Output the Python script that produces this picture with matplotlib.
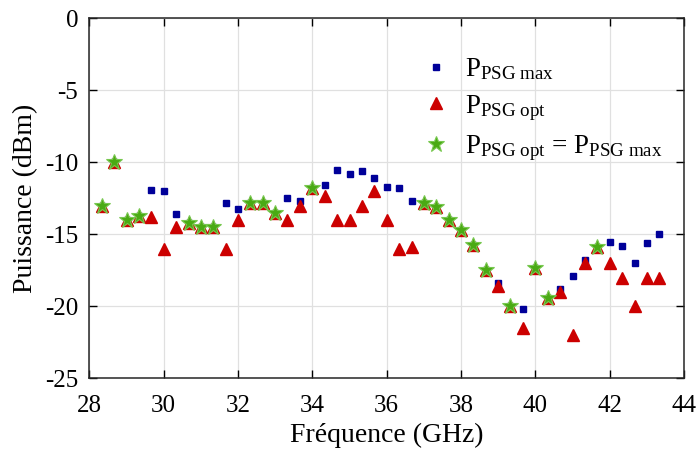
import matplotlib
matplotlib.use('Agg')
import matplotlib.pyplot as plt
import numpy as np

# frequency points (GHz)
freq = [28.33, 28.67, 29.0, 29.33, 29.67, 30.0, 30.33, 30.67, 31.0, 31.33,
        31.67, 32.0, 32.33, 32.67, 33.0, 33.33, 33.67, 34.0, 34.33, 34.67,
        35.0, 35.33, 35.67, 36.0, 36.33, 36.67, 37.0, 37.33, 37.67, 38.0,
        38.33, 38.67, 39.0, 39.33, 39.67, 40.0, 40.33, 40.67, 41.0, 41.33,
        41.67, 42.0, 42.33, 42.67, 43.0, 43.33]

# P_PSG max (dBm)
p_max = [-13.0, -10.0, -14.0, -13.7, -11.9, -12.0, -13.6, -14.2, -14.5, -14.5,
         -12.8, -13.2, -12.8, -12.8, -13.5, -12.5, -12.7, -11.8, -11.6, -10.5,
         -10.8, -10.6, -11.1, -11.7, -11.8, -12.7, -12.8, -13.1, -14.0, -14.7,
         -15.7, -17.5, -18.4, -20.0, -20.2, -17.3, -19.4, -18.8, -17.9, -16.8,
         -15.9, -15.5, -15.8, -17.0, -15.6, -15.0]

# P_PSG opt (dBm)
p_opt = [-13.0, -10.0, -14.0, -13.7, -13.8, -16.0, -14.5, -14.2, -14.5, -14.5,
         -16.0, -14.0, -12.8, -12.8, -13.5, -14.0, -13.0, -11.8, -12.3, -14.0,
         -14.0, -13.0, -12.0, -14.0, -16.0, -15.9, -12.8, -13.1, -14.0, -14.7,
         -15.7, -17.5, -18.6, -20.0, -21.5, -17.3, -19.4, -19.0, -22.0, -17.0,
         -15.9, -17.0, -18.0, -20.0, -18.0, -18.0]

plt.rcParams['font.family'] = ['Liberation Serif', 'DejaVu Serif']
plt.rcParams['mathtext.fontset'] = 'custom'
plt.rcParams['mathtext.rm'] = 'Liberation Serif'
plt.rcParams['mathtext.it'] = 'Liberation Serif:italic'
plt.rcParams['axes.unicode_minus'] = False

freq = np.array(freq)
p_max = np.array(p_max)
p_opt = np.array(p_opt)
same = p_max == p_opt

fig = plt.figure(figsize=(6.98, 4.5), dpi=100)
ax = fig.add_axes([0.128, 0.159, 0.852, 0.8])

h1, = ax.plot(freq, p_max, 's', color='#000099', ms=4.8, mec='#000099',
              label=r'P$_{\mathrm{PSG\ max}}$', zorder=3)
h2, = ax.plot(freq, p_opt, '^', color='#cc0000', ms=9, mec='#cc0000',
              label=r'P$_{\mathrm{PSG\ opt}}$', zorder=4)
h3, = ax.plot(freq[same], p_max[same], '*', color='#4aaa14', ms=12,
              mec='#78c850', mew=0.8,
              label=r'P$_{\mathrm{PSG\ opt}}$ = P$_{\mathrm{PSG\ max}}$',
              zorder=5)

ax.set_xlim(28, 44)
ax.set_ylim(-25, 0)
ax.set_xticks(range(28, 45, 2))
ax.set_yticks(range(-25, 1, 5))
ax.grid(True, color='#e0e0e0', lw=0.9)
ax.set_axisbelow(True)
ax.tick_params(direction='in', top=True, right=True, length=6, width=1,
               labelsize=18)
ax.tick_params(axis='x', pad=12)
ax.tick_params(axis='y', pad=8)
for s in ax.spines.values():
    s.set_color('#262626')
    s.set_linewidth(1.1)

ax.set_xlabel('Fréquence (GHz)', fontsize=20, labelpad=4)
ax.set_ylabel('Puissance (dBm)', fontsize=20, labelpad=5)

ax.legend(handles=[h1, h2, h3], loc='upper left', bbox_to_anchor=(0.54, 0.925),
          frameon=False, fontsize=19.5, handlelength=1.1, handletextpad=0.5,
          labelspacing=0.4, borderaxespad=0)

plt.savefig('out.png', dpi=100)
